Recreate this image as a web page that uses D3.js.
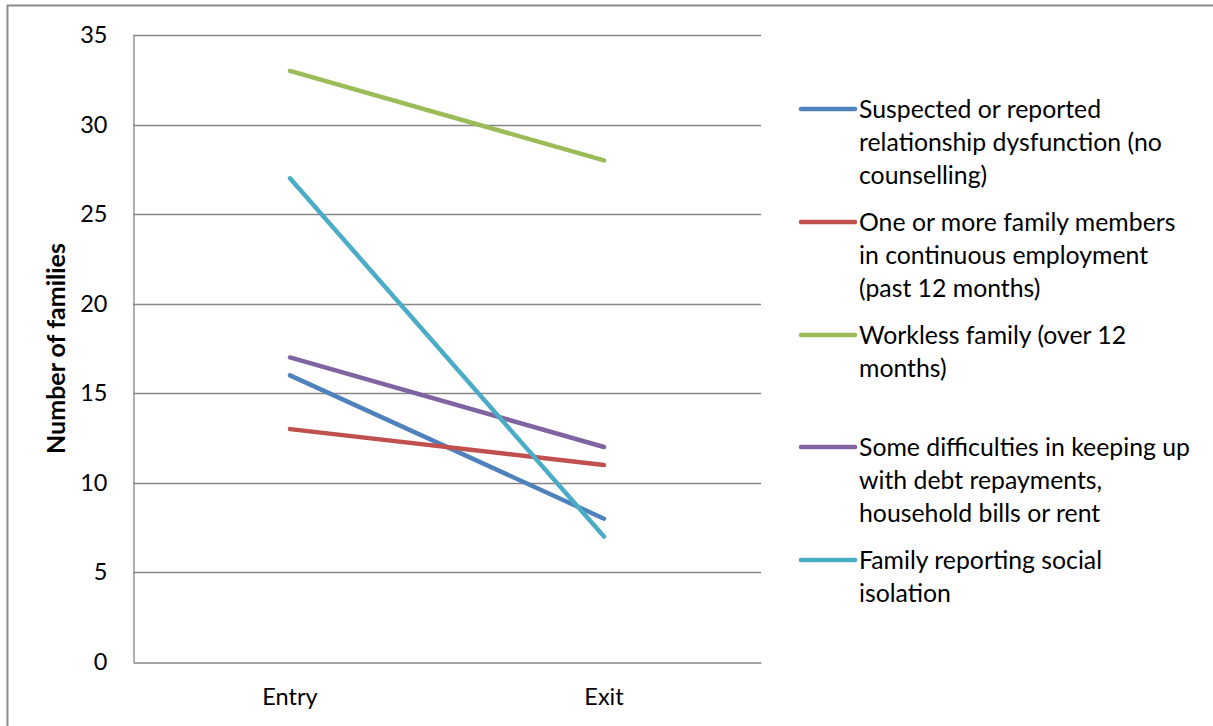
<!DOCTYPE html>
<html>
<head>
<meta charset="utf-8">
<script src="https://cdn.jsdelivr.net/npm/d3@7"></script>
<style>
  html, body { margin: 0; padding: 0; background: #fff; }
  svg { display: block; }
  text { font-family: "Lato", "Open Sans", sans-serif; fill: #000; }
</style>
</head>
<body>
<svg id="chart" width="1213" height="726"></svg>
<script>
// Stages and y-axis ticks
const stages = ["Entry", "Exit"];
const yTicks = [0, 5, 10, 15, 20, 25, 30, 35];

// One series per indicator: number of families at entry and exit
const seriesNames = [
  ["Suspected or reported", "relationship dysfunction (no", "counselling)"],
  ["One or more family members", "in continuous employment", "(past 12 months)"],
  ["Workless family (over 12", "months)"],
  ["Some difficulties in keeping up", "with debt repayments,", "household bills or rent"],
  ["Family reporting social", "isolation"]
];
const relationshipDysfunction = [16, 8];
const continuousEmployment = [13, 11];
const worklessFamily = [33, 28];
const debtDifficulties = [17, 12];
const socialIsolation = [27, 7];
const seriesValues = [relationshipDysfunction, continuousEmployment, worklessFamily, debtDifficulties, socialIsolation];
const seriesColors = ["#4F81BD", "#C0504D", "#9BBB59", "#8064A2", "#4BACC6"];

const svg = d3.select("#chart");

// outer chart frame
svg.append("rect")
  .attr("x", 7.5).attr("y", 5.5)
  .attr("width", 1240).attr("height", 760)
  .attr("fill", "none").attr("stroke", "#8c8c8c").attr("stroke-width", 2);

const plot = { left: 133, right: 761, top: 35, bottom: 662 };

const x = d3.scaleBand().domain(stages).range([plot.left, plot.right]);
const y = d3.scaleLinear().domain([0, 35]).range([plot.bottom, plot.top]);

// horizontal gridlines
svg.append("g")
  .selectAll("line")
  .data(yTicks.filter(t => t > 0))
  .join("line")
  .attr("x1", plot.left).attr("x2", plot.right)
  .attr("y1", d => Math.round(y(d)) + 0.5).attr("y2", d => Math.round(y(d)) + 0.5)
  .attr("stroke", "#868686").attr("stroke-width", 1.3);

// y axis
const yAxis = svg.append("g")
  .attr("transform", `translate(${plot.left + 0.5},0)`)
  .call(d3.axisLeft(y).tickValues(yTicks).tickSize(0).tickPadding(26));
yAxis.select(".domain").attr("stroke", "#868686").attr("stroke-width", 1.3);
yAxis.selectAll("text")
  .style("font-family", "Lato, 'Open Sans', sans-serif")
  .style("font-size", "23.5px").attr("fill", "#000");

// x axis
const xAxis = svg.append("g")
  .attr("transform", `translate(0,${plot.bottom + 0.5})`)
  .call(d3.axisBottom(x).tickSize(0).tickPadding(26));
xAxis.select(".domain").attr("stroke", "#868686").attr("stroke-width", 1.3);
xAxis.selectAll("text")
  .style("font-family", "Lato, 'Open Sans', sans-serif")
  .style("font-size", "23.5px").attr("fill", "#000");

// y axis title
svg.append("text")
  .attr("transform", `translate(65,${(plot.top + plot.bottom) / 2}) rotate(-90)`)
  .attr("text-anchor", "middle")
  .style("font-size", "25px").style("font-weight", "bold")
  .text("Number of families");

// series lines
const line = d3.line()
  .x((d, i) => x(stages[i]) + x.bandwidth() / 2)
  .y(d => y(d));

svg.append("g")
  .selectAll("path")
  .data(seriesValues)
  .join("path")
  .attr("d", d => line(d))
  .attr("fill", "none")
  .attr("stroke", (d, i) => seriesColors[i])
  .attr("stroke-width", 4.5)
  .attr("stroke-linecap", "round");

// legend
const legendY = [109, 222, 335, 447, 560];
const lineH = 33;
const legend = svg.append("g");
seriesNames.forEach((lines, i) => {
  const g = legend.append("g").attr("transform", `translate(0,${legendY[i]})`);
  g.append("line")
    .attr("x1", 801).attr("x2", 855).attr("y1", 0).attr("y2", 0)
    .attr("stroke", seriesColors[i]).attr("stroke-width", 4.5)
    .attr("stroke-linecap", "round");
  const t = g.append("text")
    .attr("x", 859).attr("y", 9)
    .style("font-size", "24.8px");
  lines.forEach((s, k) => {
    t.append("tspan").attr("x", 859).attr("dy", k === 0 ? 0 : lineH).text(s);
  });
});
</script>
</body>
</html>
